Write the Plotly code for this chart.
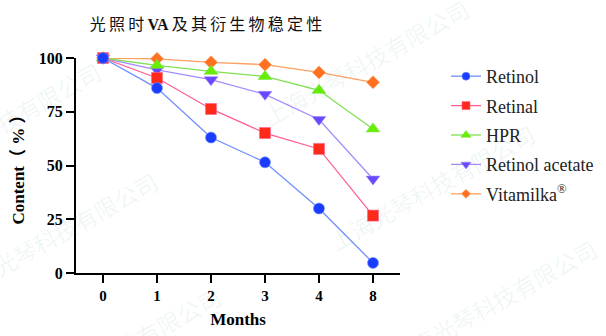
import plotly.graph_objects as go

# Storage months (categorical, equally spaced)
months = ["0", "1", "2", "3", "4", "8"]

# Remaining content (%) under light exposure
retinol = [100, 86, 63, 51.5, 30, 4.7]
retinal = [100, 90.7, 76.3, 65.1, 57.7, 26.7]
hpr = [100, 96.6, 93.8, 91.4, 85, 67]
retinol_acetate = [100, 94.5, 89.9, 83.1, 71.4, 43.7]
vitamilka = [100, 99.6, 98, 96.9, 93.3, 88.7]

y_ticks = [0, 25, 50, 75, 100]

# name, values, marker colour, line colour, symbol, size, legend rank
series = [
    ("Retinol", retinol, "#1a3cff", "#6f8fff", "circle", 11, 1),
    ("Retinal", retinal, "#ff2a1a", "#ff5f8f", "square", 11, 2),
    ("HPR", hpr, "#66f000", "#7fe050", "triangle-up", 12, 3),
    ("Retinol acetate", retinol_acetate, "#6a48ff", "#a68cff", "triangle-down", 12, 4),
    ("Vitamilka<sup>®</sup>", vitamilka, "#ff7020", "#ffa060", "diamond", 10, 5),
]

fig = go.Figure()
# draw in reverse so Retinol sits on top
for name, vals, mcol, lcol, sym, size, rank in reversed(series):
    fig.add_trace(go.Scatter(
        x=months, y=vals, name=name, mode="lines+markers",
        line=dict(color=lcol, width=1.3),
        marker=dict(color=mcol, symbol=sym, size=size,
                    line=dict(color=lcol, width=0.6)),
        showlegend=False, cliponaxis=False,
    ))

# legend keys with smaller symbols
for name, vals, mcol, lcol, sym, size, rank in series:
    fig.add_trace(go.Scatter(
        x=[None], y=[None], name=name, mode="lines+markers",
        line=dict(color=lcol, width=1.3),
        marker=dict(color=mcol, symbol=sym, size=size - 3,
                    line=dict(color=lcol, width=0.6)),
        legendgroup=name, legendrank=rank,
    ))

serif = "Liberation Serif"

# light diagonal company watermark
wm_text = "上海光琴科技有限公司"
wm_pos = [(0.895, 0.981), (1.099, 0.40), (-0.241, 0.688),
          (-0.065, 0.177), (0.13, -0.358), (1.29, -0.135)]
for wx, wy in wm_pos:
    fig.add_annotation(
        x=wx, y=wy, xref="paper", yref="paper", text=wm_text,
        showarrow=False, textangle=-29, xanchor="center", yanchor="middle",
        font=dict(family="Noto Sans CJK SC", size=23, color="rgba(0,120,120,0.07)"),
    )

ts = "\u2009"
title_text = (ts.join("光照时") + ts + "<b>VA</b>" + ts + ts.join("及其衍生物稳定性"))

fig.update_layout(
    width=606, height=336,
    margin=dict(l=76, r=206, t=58, b=63, autoexpand=False),
    paper_bgcolor="white", plot_bgcolor="white",
    title=dict(
        text=title_text,
        x=206 / 606, xanchor="center", y=1 - 24 / 336, yanchor="middle",
        font=dict(family="Liberation Serif, Noto Sans CJK SC", size=16, color="#111111"),
    ),
    legend=dict(
        x=(446 - 76) / 324, y=(273 - 58) / 215, xanchor="left", yanchor="top",
        traceorder="grouped", tracegroupgap=3,
        font=dict(family=serif, size=18, color="#222222"),
        bgcolor="rgba(0,0,0,0)",
    ),
    showlegend=True,
)

fig.update_xaxes(
    type="category", range=[-0.5, 5.5], automargin=False,
    showline=True, linecolor="black", linewidth=2,
    ticks="outside", ticklen=8, tickwidth=2, tickcolor="black",
    showgrid=False, zeroline=False,
    tickfont=dict(family=serif, size=15, color="black", weight="bold"),
    title=dict(text="<b>Months</b>", standoff=10,
               font=dict(family=serif, size=17, color="black")),
)
fig.update_yaxes(
    range=[0, 100], tickvals=y_ticks, automargin=False,
    showline=True, linecolor="black", linewidth=2,
    ticks="outside", ticklen=8, tickwidth=2, tickcolor="black",
    showgrid=False, zeroline=False,
    tickfont=dict(family=serif, size=16, color="black", weight="bold"),
    title=dict(text="<b>Content（ % ）</b>", standoff=10,
               font=dict(family=serif + ", Noto Sans CJK SC", size=17, color="black")),
)

fig.write_html("out.html")
